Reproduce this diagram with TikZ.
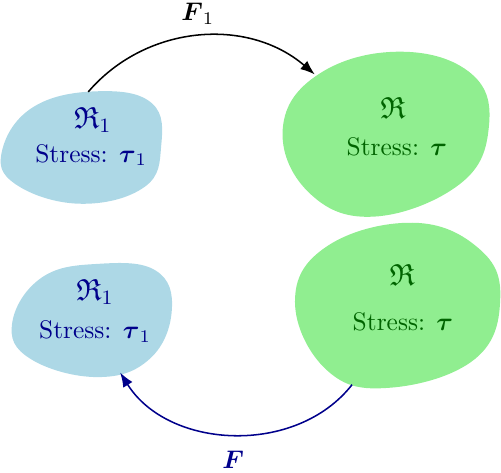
\documentclass[tikz,border=0pt]{standalone}
\usepackage{amsmath,amssymb}
\usetikzlibrary{arrows.meta,positioning}
\definecolor{lightblue}{RGB}{173,216,230}
\definecolor{lightgreen}{RGB}{144,238,144}
\definecolor{darkblue}{RGB}{0,0,139}
\definecolor{darkgreen}{RGB}{0,100,0}

\begin{document}
\begin{tikzpicture}[scale=1.05,
    blueblob/.style={fill=lightblue},
    greenblob/.style={fill=lightgreen},
    bluetext/.style={text=darkblue},
    greentext/.style={text=darkgreen},
    maparrow/.style={semithick, -{Latex[length=2mm,width=1.5mm]}}
  ]
    \useasboundingbox (0,0) rectangle (6.59,6.22);
    % blobs
    \fill[blueblob] plot[smooth cycle, tension=0.7] coordinates {(1.3,5.02) (2.0,4.86) (2.12,4.3) (1.9,3.76) (1.05,3.54) (0.2,3.8) (0.03,4.25) (0.45,4.82)};
    \fill[greenblob] plot[smooth cycle, tension=0.7] coordinates {(5.26,5.54) (6.2,5.25) (6.43,4.55) (6.05,3.8) (4.91,3.37) (4.05,3.7) (3.72,4.54) (4.2,5.25)};
    \fill[greenblob] plot[smooth cycle, tension=0.7] coordinates {(5.43,3.29) (6.3,2.95) (6.58,2.3) (6.25,1.5) (5.13,1.12) (4.3,1.35) (3.88,2.25) (4.3,2.98)};
    \fill[blueblob] plot[smooth cycle, tension=0.7] coordinates {(1.3,2.75) (2.05,2.66) (2.26,2.14) (1.97,1.5) (1.28,1.26) (0.4,1.5) (0.16,1.97) (0.55,2.57)};
    % texts
    \node[bluetext] (R1a) at (1.22,4.64) {\large $\mathfrak{R}_1$};
    \node[bluetext] (S1a) at (1.20,4.18) {Stress: $\boldsymbol{\tau}_1$};
    \node[greentext] (Ra) at (5.17,4.80) {\large $\mathfrak{R}$};
    \node[greentext] (Sa) at (5.22,4.29) {Stress: $\boldsymbol{\tau}$};
    \node[greentext] (Rb) at (5.29,2.61) {\large $\mathfrak{R}$};
    \node[greentext] (Sb) at (5.30,1.99) {Stress: $\boldsymbol{\tau}$};
    \node[bluetext] (R1b) at (1.25,2.38) {\large $\mathfrak{R}_1$};
    \node[bluetext] (S1b) at (1.25,1.86) {Stress: $\boldsymbol{\tau}_1$};
    % maps
    \coordinate (F1s) at (1.16,5.01);
    \coordinate (F1e) at (4.14,5.24);
    \coordinate (Fs) at (4.63,1.16);
    \coordinate (Fe) at (1.58,1.32);
    \draw[maparrow] (F1s) to[bend left=45] node[above=1pt] (F1) {$\boldsymbol{F}_1$} (F1e);
    \draw[maparrow, darkblue] (Fs) to[bend left=55] node[below=3pt] (F) {$\boldsymbol{F}$} (Fe);
  \end{tikzpicture}
\end{document}
